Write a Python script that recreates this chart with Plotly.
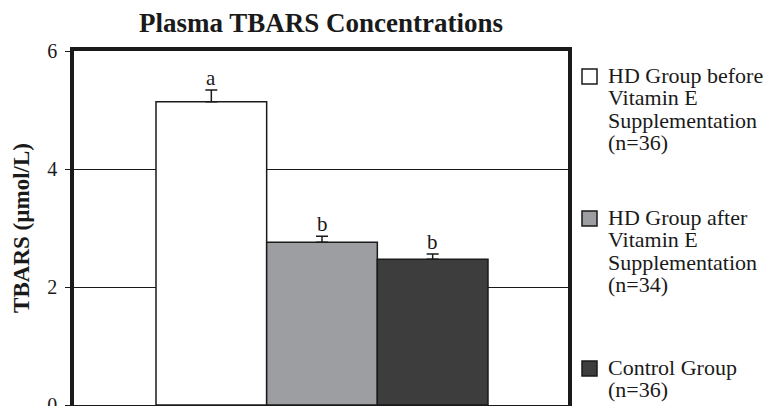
import plotly.graph_objects as go

# ---- data ----
positions = [0, 1, 2]
values = [5.14, 2.76, 2.47]
errors = [0.20, 0.10, 0.09]
letters = ["a", "b", "b"]
colors = ["#ffffff", "#9d9ea2", "#3d3d3d"]
legend_lines = [
    ["HD Group before", "Vitamin E", "Supplementation", "(n=36)"],
    ["HD Group after", "Vitamin E", "Supplementation", "(n=34)"],
    ["Control Group", "(n=36)"],
]
y_ticks = [0, 2, 4, 6]
y_tick_text = ["0", "2", "4", "6"]

# ---- layout geometry ----
W, H = 768, 406
ML, MR, MT, MB = 74, 200, 51, 1
PW, PH = W - ML - MR, H - MT - MB
INK = "#1a1a1a"
SERIF = "Liberation Serif, Times New Roman, serif"


def px_x(x):
    return (x - ML) / PW


def px_y(y):
    return (H - MB - y) / PH


fig = go.Figure()
fig.add_trace(go.Bar(
    x=positions, y=values, width=1,
    marker=dict(color=colors, line=dict(color=INK, width=1.5)),
    error_y=dict(type="data", symmetric=False, array=errors,
                 arrayminus=[0] * len(errors), color=INK, thickness=1.5, width=6),
    showlegend=False, hoverinfo="skip",
))

annotations = []
for xp, v, e, t in zip(positions, values, errors, letters):
    annotations.append(dict(x=xp, y=v + e, xref="x", yref="y", text=t, showarrow=False,
                            yanchor="bottom", yshift=-2,
                            font=dict(family=SERIF, size=21, color=INK)))

shapes = []
first_baselines = [83, 225, 375]
line_step = 22.3
for lines, base, col in zip(legend_lines, first_baselines, colors):
    for k, ln in enumerate(lines):
        b = base + k * line_step
        annotations.append(dict(x=px_x(607), y=px_y(b - 7.4), xref="paper", yref="paper",
                                text=ln, showarrow=False, xanchor="left", yanchor="middle",
                                borderpad=0,
                                font=dict(family=SERIF, size=22, color=INK)))
    c = base - 6.5
    shapes.append(dict(type="rect", xref="paper", yref="paper",
                       x0=px_x(582), x1=px_x(597), y0=px_y(c + 7.5), y1=px_y(c - 7.5),
                       fillcolor=col, line=dict(color=INK, width=1.5)))

fig.update_layout(
    width=W, height=H,
    margin=dict(l=ML, r=MR, t=MT, b=MB, pad=0),
    paper_bgcolor="white", plot_bgcolor="white",
    title=dict(text="<b>Plasma TBARS Concentrations</b>", x=321 / W, xanchor="center",
               xref="container", y=1 - 22.5 / H, yanchor="middle", yref="container",
               font=dict(family=SERIF, size=27, color=INK)),
    xaxis=dict(range=[-1.241, 3.223], showticklabels=False, ticks="", showgrid=False,
               zeroline=False, showline=True, linewidth=3.5, linecolor=INK, mirror=True,
               fixedrange=True, automargin=False),
    yaxis=dict(range=[0, 6], tickvals=y_ticks, ticktext=y_tick_text, ticks="outside",
               ticklen=5, tickwidth=1, tickcolor=INK, ticklabelstandoff=4,
               ticklabeloverflow="allow", automargin=False,
               showgrid=True, gridcolor=INK,
               gridwidth=1, zeroline=False, showline=True, linewidth=3.5, linecolor=INK,
               mirror=True, tickfont=dict(family=SERIF, size=20, color=INK),
               title=dict(text="<b>TBARS (µmol/L)</b>", standoff=12,
                          font=dict(family=SERIF, size=23, color=INK))),
    annotations=annotations,
    shapes=shapes,
    font=dict(family=SERIF, color=INK),
)

fig.write_html("out.html", config={"displayModeBar": False},
               post_script="document.body.style.margin='0';document.body.style.overflow='hidden';")
